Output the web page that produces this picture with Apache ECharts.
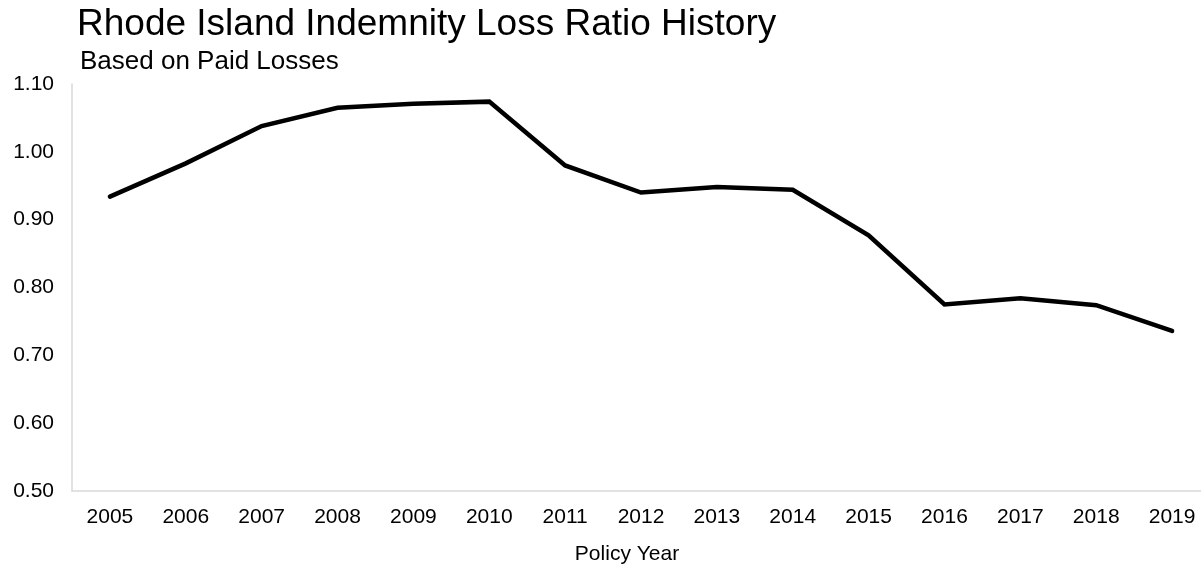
<!DOCTYPE html>
<html>
<head>
<meta charset="utf-8">
<script src="https://cdn.jsdelivr.net/npm/echarts@6/dist/echarts.min.js"></script>
<style>
  html, body { margin: 0; padding: 0; background: #fff; }
  #chart { width: 1201px; height: 565px; }
</style>
</head>
<body>
<div id="chart"></div>
<script>
// Policy years on the category axis
const years = ['2005', '2006', '2007', '2008', '2009', '2010', '2011', '2012',
               '2013', '2014', '2015', '2016', '2017', '2018', '2019'];
// Indemnity loss ratio, paid-loss basis
const lossRatio = [0.934, 0.983, 1.038, 1.065, 1.071, 1.074, 0.980, 0.940,
                   0.948, 0.944, 0.877, 0.775, 0.784, 0.774, 0.736];
// Value-axis range and step
const yMin = 0.5;
const yMax = 1.1;
const yStep = 0.1;

const FONT = "'Liberation Sans', Arial, sans-serif";
const chart = echarts.init(document.getElementById('chart'), null, { renderer: 'canvas' });

chart.setOption({
  backgroundColor: '#ffffff',
  animation: false,
  title: [
    {
      text: 'Rhode Island Indemnity Loss Ratio History',
      left: 72,
      top: 1,
      textStyle: { fontFamily: FONT, fontSize: 37, fontWeight: 'normal', color: '#000' }
    },
    {
      text: 'Based on Paid Losses',
      left: 75,
      top: 44,
      textStyle: { fontFamily: FONT, fontSize: 26, fontWeight: 'normal', color: '#000' }
    }
  ],
  grid: {
    left: 72, top: 84, width: 1138, bottom: 74,
    containLabel: false,
    outerBoundsMode: 'none'
  },
  xAxis: {
    type: 'category',
    data: years,
    boundaryGap: true,
    axisLine: { show: true, lineStyle: { color: '#d9d9d9', width: 1.5 } },
    axisTick: { show: false },
    axisLabel: { fontFamily: FONT, fontSize: 21, color: '#000', margin: 16 },
    name: 'Policy Year',
    nameLocation: 'middle',
    nameGap: 53,
    nameTextStyle: { fontFamily: FONT, fontSize: 21, color: '#000', padding: [0, 28, 0, 0] }
  },
  yAxis: {
    type: 'value',
    min: yMin,
    max: yMax,
    interval: yStep,
    axisLine: { show: true, lineStyle: { color: '#d9d9d9', width: 1.5 } },
    axisTick: { show: false },
    splitLine: { show: false },
    axisLabel: {
      fontFamily: FONT, fontSize: 21, color: '#000', margin: 18,
      formatter: v => v.toFixed(2)
    }
  },
  series: [{
    type: 'line',
    data: lossRatio,
    symbol: 'none',
    lineStyle: { color: '#000', width: 4.5, cap: 'round', join: 'miter' }
  }]
});
</script>
</body>
</html>
